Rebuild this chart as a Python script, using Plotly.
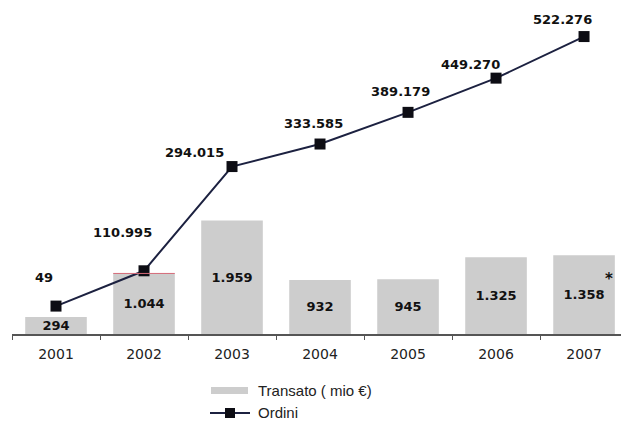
import plotly.graph_objects as go

# Data
anni = ["2001", "2002", "2003", "2004", "2005", "2006", "2007"]
transato = [294, 1044, 1959, 932, 945, 1325, 1358]          # mio €
transato_txt = ["294", "1.044", "1.959", "932", "945", "1.325", "1.358"]
ordini = [49.0, 110.995, 294.015, 333.585, 389.179, 449.270, 522.276]  # migliaia
ordini_txt = ["49", "110.995", "294.015", "333.585", "389.179", "449.270", "522.276"]

# label offsets (px) for the order labels, relative to each marker
label_dx = [-12, -22, -38, -7, -8, -26, -22]
label_dy = [29, 38, 14, 21, 21, 14, 17]

W, H = 621, 423
ML, MR, MT, MB = 12, 0, 0, 89
PW, PH = W - ML - MR, H - MT - MB


def px(x):
    return (x - ML) / PW


def py(y):
    return (H - MB - y) / PH


BAR = "#cdcdcd"
LINE = "#1c2140"
BOLD = dict(family="DejaVu Sans", size=13, color="#111", weight="bold")

fig = go.Figure()

fig.add_trace(go.Bar(
    x=anni, y=transato, name="Transato ( mio €)",
    marker=dict(color=BAR, line=dict(width=0)),
    text=transato_txt, textposition="inside", insidetextanchor="middle",
    constraintext="none", cliponaxis=False,
    textfont=BOLD, textangle=0, showlegend=False, yaxis="y",
))

fig.add_trace(go.Scatter(
    x=anni, y=ordini, name="Ordini", mode="lines+markers",
    line=dict(color=LINE, width=2),
    marker=dict(symbol="square", size=11, color="#0d0d14"),
    showlegend=False, yaxis="y2",
))

annotations = []
for i, (a, v, t) in enumerate(zip(anni, ordini, ordini_txt)):
    annotations.append(dict(
        x=i, y=v, xref="x", yref="y2", text=t, showarrow=False,
        xshift=label_dx[i], yshift=label_dy[i], font=BOLD,
    ))

# asterisk next to the last bar
annotations.append(dict(
    x=len(anni) - 1, y=transato[-1], xref="x", yref="y", text="*",
    showarrow=False, xshift=25, yshift=-24,
    font=dict(family="DejaVu Sans", size=15, color="#111", weight="bold"),
))

# legend drawn by hand
shapes = [
    dict(type="rect", xref="paper", yref="paper",
         x0=px(211), x1=px(248), y0=py(394), y1=py(387),
         fillcolor=BAR, line=dict(width=0)),
    dict(type="line", xref="paper", yref="paper",
         x0=px(210), x1=px(250), y0=py(413), y1=py(413),
         line=dict(color=LINE, width=2)),
    dict(type="rect", xref="paper", yref="paper",
         x0=px(225), x1=px(235), y0=py(418), y1=py(408),
         fillcolor="#0d0d14", line=dict(width=0)),
    # thin red edge on top of the 2002 bar
    dict(type="line", xref="x", yref="y",
         x0=1 - 0.35, x1=1 + 0.35, y0=transato[1], y1=transato[1],
         line=dict(color="#d46a78", width=1)),
]
annotations.append(dict(
    x=px(256), y=py(390), xref="paper", yref="paper", xanchor="left",
    yanchor="middle", text="Transato ( mio €)", showarrow=False,
    font=dict(family="Liberation Sans", size=15, color="#222"),
))
annotations.append(dict(
    x=px(256), y=py(412), xref="paper", yref="paper", xanchor="left",
    yanchor="middle", text="Ordini", showarrow=False,
    font=dict(family="Liberation Sans", size=15, color="#222"),
))

hidden = dict(showticklabels=False, showline=False, showgrid=False,
              zeroline=False, ticks="")

fig.update_layout(
    width=W, height=H,
    margin=dict(l=ML, r=MR, t=MT, b=MB),
    paper_bgcolor="white", plot_bgcolor="white",
    bargap=0.3,
    showlegend=False,
    xaxis=dict(
        type="category", range=[-0.5, 6.42],
        showline=True, linecolor="#555", linewidth=1.5,
        ticks="outside", tickson="boundaries", ticklen=4, tickcolor="#555",
        tickfont=dict(family="DejaVu Sans", size=14, color="#222"),
        ticklabelstandoff=6,
        showgrid=False, zeroline=False,
    ),
    yaxis=dict(range=[0, PH / 0.058], **hidden),
    yaxis2=dict(range=[0, PH / 0.5695], overlaying="y", **hidden),
    annotations=annotations,
    shapes=shapes,
)

fig.write_html("out.html")
